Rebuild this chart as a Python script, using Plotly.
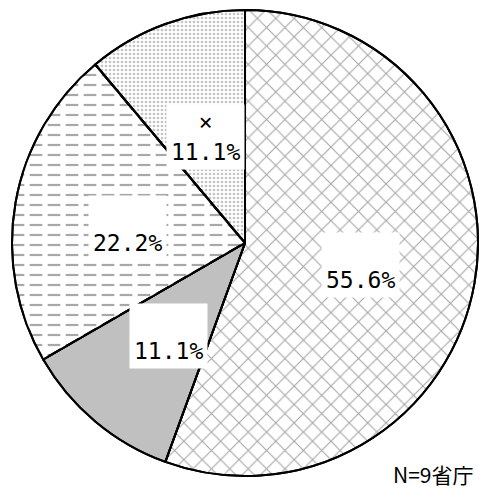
import plotly.graph_objects as go

# Responses (number of ministries) per answer category
categories = ["A", "B", "C", "×"]
counts = [5, 1, 2, 1]
category_captions = ["", "", "", "×"]  # caption printed above the percentage
total_note = "N=9省庁"

# Slice appearance
slice_bg = ["#ffffff", "#c0c0c0", "#ffffff", "#ffffff"]
slice_fg = ["#a6a6a6", "#c0c0c0", "#a8a8a8", "#c4c4c4"]
slice_shape = ["x", "", "-", "."]
slice_size = [13, 8, 10, 4]
slice_solidity = [0.16, 0.3, 0.22, 0.35]

# Label box centres (paper coordinates)
label_pos = [(0.752, 0.459), (0.351, 0.314), (0.267, 0.535), (0.428, 0.720)]

total = sum(counts)
pcts = [f"{c / total * 100:.1f}%" for c in counts]
pie_domain = dict(x=[0.025, 0.998], y=[0.0286, 0.9796])
clear = "rgba(0,0,0,0)"

fig = go.Figure()

# Base pie with hatch / dot fills
fig.add_trace(go.Pie(
    labels=categories, values=counts,
    sort=False, direction="clockwise", rotation=0,
    textinfo="none", hoverinfo="skip",
    marker=dict(
        colors=slice_bg,
        line=dict(color="#000000", width=2),
        pattern=dict(shape=slice_shape, fgcolor=slice_fg, bgcolor=slice_bg,
                     size=slice_size, solidity=slice_solidity, fillmode="replace"),
    ),
    domain=pie_domain, showlegend=False,
))

# Overlay: white vertical gaps turn the horizontal rules of slice C into dashes
fig.add_trace(go.Pie(
    labels=categories, values=counts,
    sort=False, direction="clockwise", rotation=0,
    textinfo="none", hoverinfo="label+percent",
    marker=dict(
        colors=[clear] * 4,
        line=dict(color="#000000", width=2),
        pattern=dict(shape=["", "", "|", ""], fgcolor="#ffffff", bgcolor=clear,
                     size=18, solidity=0.3, fillmode="replace"),
    ),
    domain=pie_domain, showlegend=False,
))

for cap, pct, (px, py) in zip(category_captions, pcts, label_pos):
    first = cap if cap else "&nbsp;"
    fig.add_annotation(
        x=px, y=py, xref="paper", yref="paper",
        xanchor="center", yanchor="middle",
        text=f"{first}<br>{pct}",
        showarrow=False,
        font=dict(family="DejaVu Sans Mono", size=23, color="#000000"),
        bgcolor="#ffffff",
        borderpad=4,
        align="center",
    )

fig.add_annotation(
    x=0.993, y=1 - 474 / 490, xref="paper", yref="paper",
    text=total_note, showarrow=False,
    xanchor="right", yanchor="middle",
    font=dict(family="Noto Sans CJK JP", size=21, color="#000000"),
)

fig.update_layout(
    width=479, height=490,
    margin=dict(l=0, r=0, t=0, b=0),
    paper_bgcolor="#ffffff",
    plot_bgcolor="#ffffff",
)

fig.write_html("out.html")
